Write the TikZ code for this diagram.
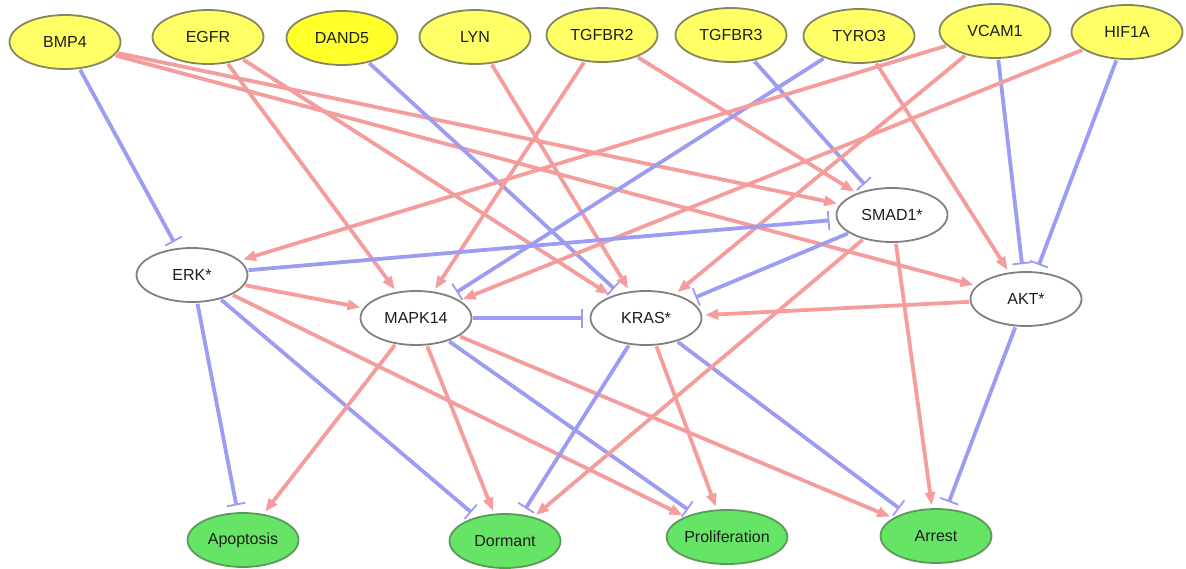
\documentclass[tikz,border=0pt]{standalone}
\usepackage{fontspec}
\setmainfont{Liberation Sans}
\usetikzlibrary{arrows.meta,shapes.geometric}
\definecolor{actc}{HTML}{F59C9C}
\definecolor{inhc}{HTML}{9C9CF2}
\definecolor{yfill}{HTML}{FFFF66}
\definecolor{yfilldark}{HTML}{FFFF2A}
\definecolor{ybord}{HTML}{85855F}
\definecolor{gfill}{HTML}{66E466}
\definecolor{gbord}{HTML}{5A9A5A}
\definecolor{mbord}{HTML}{808080}
\definecolor{txt}{HTML}{1E1E1E}
\begin{document}
\begin{tikzpicture}[x=1pt,y=-1pt,
  base/.style={ellipse, minimum width=111pt, minimum height=54pt, inner sep=0pt,
    line width=1.8pt, text=txt, font=\fontsize{16}{18}\selectfont},
  inp/.style={base, draw=ybord, fill=yfill},
  inpdark/.style={base, draw=ybord, fill=yfilldark},
  mid/.style={base, draw=mbord, fill=white},
  outc/.style={base, draw=gbord, fill=gfill},
  act/.style={draw=actc, line width=3.8pt, -{Triangle[length=13pt,width=10pt]},
    shorten >=3pt, shorten <=1pt},
  inh/.style={draw=inhc, line width=3.8pt, -{Bar[width=19pt,line width=1.8pt]},
    shorten >=7pt, shorten <=1pt}]
\useasboundingbox (0,0) rectangle (1186,568);
% input nodes
\node[inp] (bmp4) at (65,42) {BMP4};
\node[inp] (egfr) at (208,37) {EGFR};
\node[inpdark] (dand5) at (342,38) {DAND5};
\node[inp] (lyn) at (475,37) {LYN};
\node[inp] (tgfbr2) at (602,35) {TGFBR2};
\node[inp] (tgfbr3) at (731,35) {TGFBR3};
\node[inp] (tyro3) at (859,36) {TYRO3};
\node[inp] (vcam1) at (995,31) {VCAM1};
\node[inp] (hif1a) at (1127,32) {HIF1A};
% middle nodes
\node[mid] (erk) at (192,275) {ERK*};
\node[mid] (mapk14) at (416,318) {MAPK14};
\node[mid] (kras) at (646,318) {KRAS*};
\node[mid] (smad1) at (892,215) {SMAD1*};
\node[mid] (akt) at (1026,299) {AKT*};
% outcome nodes
\node[outc] (apop) at (243,540) {Apoptosis};
\node[outc] (dorm) at (505,541) {Dormant};
\node[outc] (prol) at (727,537) {Proliferation};
\node[outc] (arr) at (936,536) {Arrest};
% edges from inputs
\draw[inh] (bmp4) -- (erk);
\draw[act] (bmp4) -- (smad1);
\draw[act] (bmp4) -- (akt);
\draw[act] (egfr) -- (mapk14);
\draw[act] (egfr) -- (kras);
\draw[inh] (dand5) -- (kras);
\draw[act] (lyn) -- (kras);
\draw[act] (tgfbr2) -- (mapk14);
\draw[act] (tgfbr2) -- (smad1);
\draw[inh] (tgfbr3) -- (smad1);
\draw[inh] (tyro3) -- (mapk14);
\draw[act] (tyro3) -- (akt);
\draw[act] (vcam1) -- (erk);
\draw[act] (vcam1) -- (kras);
\draw[inh] (vcam1) -- (akt);
\draw[act] (hif1a) -- (mapk14);
\draw[inh] (hif1a) -- (akt);
% middle edges
\draw[act] (erk) -- (mapk14);
\draw[inh] (erk) -- (smad1);
\draw[inh] (mapk14) -- (kras);
\draw[inh] (smad1) -- (kras);
\draw[act] (akt) -- (kras);
% edges to outcomes
\draw[inh] (erk) -- (apop);
\draw[inh] (erk) -- (dorm);
\draw[act] (erk) -- (prol);
\draw[act] (mapk14) -- (apop);
\draw[act] (mapk14) -- (dorm);
\draw[inh] (mapk14) -- (prol);
\draw[act] (mapk14) -- (arr);
\draw[inh] (kras) -- (dorm);
\draw[act] (kras) -- (prol);
\draw[inh] (kras) -- (arr);
\draw[act] (smad1) -- (dorm);
\draw[act] (smad1) -- (arr);
\draw[inh] (akt) -- (arr);
\end{tikzpicture}
\end{document}
